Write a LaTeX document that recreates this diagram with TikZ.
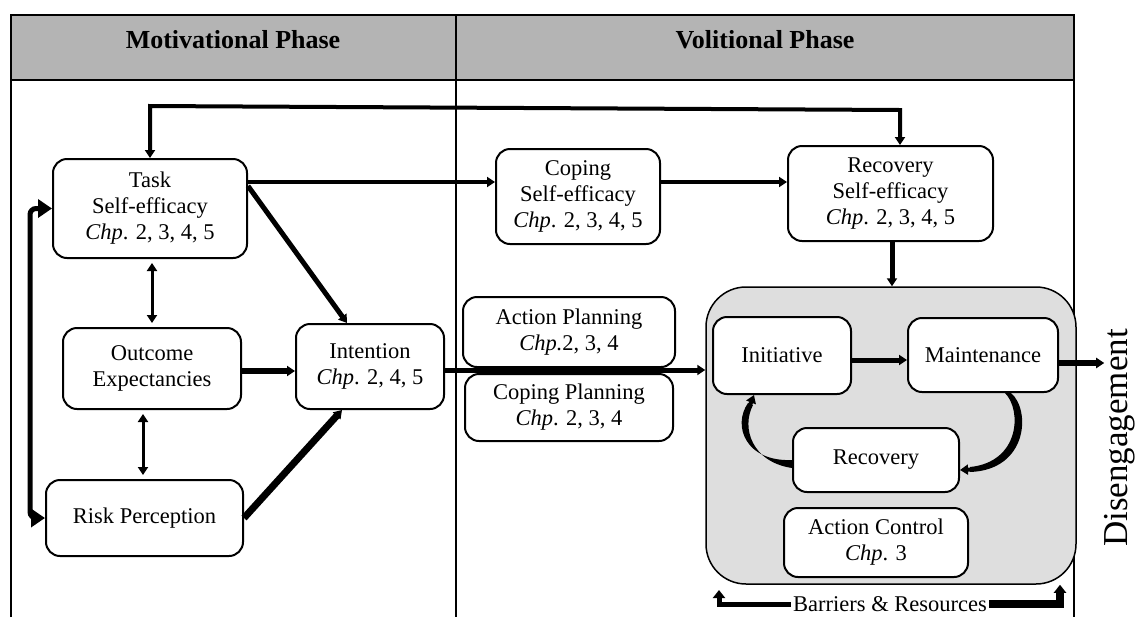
\documentclass[tikz,border=0pt]{standalone}
\usepackage{fontspec}
\setmainfont{Liberation Serif}
\usetikzlibrary{arrows.meta}
\definecolor{headgray}{RGB}{180,180,180}
\definecolor{boxgray}{RGB}{222,222,222}
\begin{document}
\begin{tikzpicture}[x=0.5pt,y=-0.5pt,
  rbox/.style={draw,line width=1pt,rounded corners=7pt,fill=white,align=center,inner sep=0pt,
    font=\fontsize{11.25}{13}\selectfont},
  tbl/.style={line width=0.75pt},
  con/.style={line width=#1,-{Triangle[length=4pt,width=5pt]}},
  dcon/.style={line width=#1,{Triangle[length=4pt,width=5pt]}-{Triangle[length=4pt,width=5pt]}},
  bighead/.style={line width=#1,{Triangle[length=7pt,width=9pt]}-{Triangle[length=7pt,width=9pt]}},
  txt/.style={font=\fontsize{11.25}{13}\selectfont,inner sep=1pt}
]
\useasboundingbox (0,0) rectangle (1137,617);
% table
\fill[headgray] (11,15) rectangle (1074,80);
\draw[tbl] (11,617) -- (11,15) -- (1074,15) -- (1074,617);
\draw[tbl] (11,80) -- (1074,80);
\draw[tbl] (456,15) -- (456,617);
\node[font=\fontsize{13}{15}\selectfont\bfseries] (mot) at (233,40) {Motivational Phase};
\node[font=\fontsize{13}{15}\selectfont\bfseries] (vol) at (765,40) {Volitional Phase};
% gray container
\node[draw,line width=0.75pt,fill=boxgray,rounded corners=20pt,minimum width=185pt,minimum height=148.5pt,inner sep=0pt] (gray) at (891,435.5) {};
% boxes
\node[rbox,minimum width=97pt,minimum height=49.5pt] (task) at (150,208.5) {Task\\Self-efficacy\\\textit{Chp}. 2, 3, 4, 5};
\node[rbox,minimum width=89pt,minimum height=40.5pt] (out) at (152,368.5) {Outcome\\Expectancies};
\node[rbox,minimum width=98.5pt,minimum height=38pt] (risk) at (144.5,518) {Risk Perception};
\node[rbox,minimum width=74pt,minimum height=42.5pt] (int) at (370,366.5) {Intention\\\textit{Chp}. 2, 4, 5};
\node[rbox,minimum width=82pt,minimum height=47.5pt] (cse) at (578,196.5) {Coping\\Self-efficacy\\\textit{Chp}. 2, 3, 4, 5};
\node[rbox,minimum width=102.5pt,minimum height=47.5pt] (rse) at (890.5,193.5) {Recovery\\Self-efficacy\\\textit{Chp}. 2, 3, 4, 5};
\node[rbox,minimum width=106pt,minimum height=35pt] (ap) at (569,332) {Action Planning\\\textit{Chp.}2, 3, 4};
\node[rbox,minimum width=104pt,minimum height=33.5pt] (cp) at (569,407.5) {Coping Planning\\\textit{Chp}. 2, 3, 4};
\node[rbox,minimum width=69pt,minimum height=38.5pt] (ini) at (782,355.5) {Initiative};
\node[rbox,minimum width=75pt,minimum height=37pt] (mnt) at (983,355) {Maintenance};
\node[rbox,minimum width=83pt,minimum height=32pt] (rec) at (876,460) {Recovery};
\node[rbox,minimum width=92pt,minimum height=34.5pt] (acc) at (876,542.5) {Action Control\\\textit{Chp}. 3};
% side texts
\node[rotate=90,font=\fontsize{17.5}{20}\selectfont,inner sep=0pt] (dis) at (1120,438) {Disengagement};
\node[txt] (bar) at (890,604) {Barriers \& Resources};
% connectors
\coordinate (tl) at (150,106);
\coordinate (tr) at (900,110);
\draw[dcon=2pt] (task.north) -- (tl) -- (tr) -- (tr |- rse.north);
\draw[con=2pt] (task.east |- 0,182) -- (cse.west |- 0,182);
\draw[con=2pt] (cse.east |- 0,182) -- (rse.west |- 0,182);
\draw[con=2.5pt] (task.east |- 0,186) -- (int.north -| 347,0);
\draw[con=3pt] (out.east |- 0,371) -- (int.west |- 0,371);
\draw[con=3.5pt] (risk.east |- 0,518) -- (int.south -| 342,0);
\draw[dcon=1.5pt,shorten <=2pt,shorten >=2pt] (task.south -| 152,0) -- (out.north -| 152,0);
\draw[dcon=1.5pt,shorten <=2pt,shorten >=2pt] (out.south -| 143,0) -- (risk.north -| 143,0);
\draw[bighead=2.5pt,rounded corners=3pt] (task.west) -- (task.west -| 30,0) -- (risk.west -| 30,0) -- (risk.west);
\draw[con=2.5pt] (int.east |- 0,370) -- (gray.west |- 0,370);
\draw[con=2.5pt] (rse.south -| 892,0) -- (gray.north -| 892,0);
\draw[con=2.5pt] (ini.east |- 0,360) -- (mnt.west |- 0,360);
\draw[con=3pt] (mnt.east |- 0,363) -- (dis.north |- 0,363);
% tapered curved arrows
\fill (rec.west |- 0,460) .. controls (746,462) and (732,426) .. (748,403)
  -- (753,405) .. controls (741,428) and (752,462) .. (rec.west |- 0,468) -- cycle;
\draw[con=2pt] (750,405) -- (ini.south -| 754,0);
\fill (mnt.south -| 1005,0) .. controls (1022,410) and (1020,462) .. (970,467)
  -- (970,472) .. controls (1028,470) and (1031,410) .. (mnt.south -| 1011,0) -- cycle;
\draw[con=2pt] (972,469.5) -- (rec.east |- 0,470);
\draw[line width=2.5pt,-{Triangle[length=4pt,width=6pt]}] (bar.west) -- (bar.west -| 719,0) -- (719,590);
\draw[line width=4pt,-{Triangle[length=4pt,width=6pt]}] (bar.east) -- (bar.east -| 1060,0) -- (gray.south -| 1060,0);
\end{tikzpicture}
\end{document}
